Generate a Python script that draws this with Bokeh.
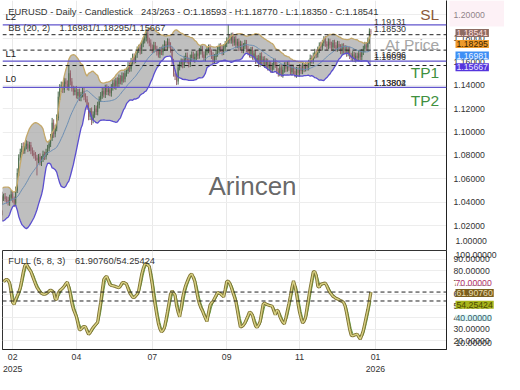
import numpy as np
import pandas as pd
from bokeh.plotting import figure
from bokeh.layouts import column
from bokeh.models import Range1d, FixedTicker, PrintfTickFormatter, Label, Span, BoxAnnotation
from bokeh.embed import file_html
from bokeh.resources import INLINE

FONT = "Liberation Sans"

# ---------------- data ----------------
title_left = "EURUSD - Daily - Candlestick"
title_right = "243/263 - O:1.18593 - H:1.18770 - L:1.18350 - C:1.18541"
bb_name = "BB (20, 2)"
bb_values_text = "1.16981/1.18295/1.15667"
stoch_name = "FULL (5, 8, 3)"
stoch_values_text = "61.90760/54.25424"
watermark = "Arincen"

warmup_bars = 20
first_open = 1.0380
closes = [
    1.0360, 1.0310, 1.0290, 1.0330, 1.0270, 1.0240, 1.0300, 1.0350, 1.0390, 1.0420,
    1.0450, 1.0410, 1.0430, 1.0470, 1.0490, 1.0460, 1.0420, 1.0380, 1.0410, 1.0440,
    1.0450, 1.0430, 1.0420, 1.0400, 1.0440, 1.0470, 1.0430, 1.0390, 1.0500, 1.0650,
    1.0780, 1.0830, 1.0880, 1.0840, 1.0880, 1.0900, 1.0860, 1.0890, 1.0840, 1.0820,
    1.0800, 1.0780, 1.0760, 1.0790, 1.0740, 1.0770, 1.0810, 1.0790, 1.0830, 1.0860,
    1.0900, 1.0950, 1.1080, 1.0980, 1.1030, 1.1120, 1.1300, 1.1370, 1.1400, 1.1360,
    1.1430, 1.1410, 1.1380, 1.1500, 1.1430, 1.1370, 1.1340, 1.1360, 1.1310, 1.1340,
    1.1290, 1.1320, 1.1350, 1.1300, 1.1280, 1.1220, 1.1130, 1.1180, 1.1100, 1.1150,
    1.1200, 1.1170, 1.1230, 1.1280, 1.1310, 1.1350, 1.1320, 1.1380, 1.1340, 1.1360,
    1.1330, 1.1380, 1.1420, 1.1390, 1.1440, 1.1410, 1.1460, 1.1430, 1.1480, 1.1450,
    1.1500, 1.1520, 1.1570, 1.1540, 1.1600, 1.1640, 1.1610, 1.1660, 1.1700, 1.1720,
    1.1690, 1.1750, 1.1780, 1.1800, 1.1840, 1.1780, 1.1760, 1.1720, 1.1700, 1.1740,
    1.1710, 1.1680, 1.1660, 1.1700, 1.1680, 1.1720, 1.1750, 1.1720, 1.1770, 1.1740,
    1.1700, 1.1600, 1.1500, 1.1470, 1.1430, 1.1550, 1.1580, 1.1600, 1.1570, 1.1620,
    1.1650, 1.1610, 1.1580, 1.1630, 1.1660, 1.1620, 1.1640, 1.1670, 1.1650, 1.1690,
    1.1710, 1.1660, 1.1630, 1.1680, 1.1700, 1.1720, 1.1680, 1.1650, 1.1610, 1.1640,
    1.1670, 1.1700, 1.1730, 1.1710, 1.1680, 1.1720, 1.1750, 1.1780, 1.1800, 1.1780,
    1.1820, 1.1760, 1.1790, 1.1740, 1.1770, 1.1720, 1.1750, 1.1700, 1.1730, 1.1760,
    1.1710, 1.1680, 1.1660, 1.1700, 1.1640, 1.1670, 1.1610, 1.1630, 1.1580, 1.1650,
    1.1600, 1.1620, 1.1570, 1.1600, 1.1550, 1.1580, 1.1530, 1.1560, 1.1600, 1.1570,
    1.1520, 1.1500, 1.1550, 1.1490, 1.1530, 1.1570, 1.1540, 1.1580, 1.1550, 1.1510,
    1.1550, 1.1520, 1.1490, 1.1530, 1.1500, 1.1550, 1.1520, 1.1560, 1.1540, 1.1570,
    1.1550, 1.1590, 1.1630, 1.1610, 1.1650, 1.1680, 1.1660, 1.1700, 1.1740, 1.1720,
    1.1760, 1.1790, 1.1750, 1.1730, 1.1770, 1.1740, 1.1720, 1.1760, 1.1740, 1.1710,
    1.1750, 1.1720, 1.1690, 1.1730, 1.1690, 1.1710, 1.1670, 1.1700, 1.1650, 1.1630,
    1.1660, 1.1620, 1.1650, 1.1630, 1.1670, 1.1640, 1.1680, 1.1710, 1.1740, 1.1720,
    1.1780, 1.18593, 1.18541,
]
upper_wick_pips = [
    30, 25, 20, 35, 28, 22, 30, 26, 24, 32, 28, 25, 30, 22, 27, 31, 26, 24, 29, 23,
    25, 30, 22, 28, 26, 33, 24, 20, 35, 40, 30, 28, 26, 32, 24, 30, 22, 27, 25, 29,
    24, 30, 26, 22, 28, 25, 31, 23, 27, 30, 26, 34, 40, 28, 32, 30, 45, 38, 30, 26,
    32, 28, 30, 70, 26, 30, 24, 28, 33, 26, 30, 22, 28, 25, 30, 27, 32, 24, 29, 26,
    30, 25, 28, 24, 31, 27, 29, 23, 26, 30, 24, 28, 25, 29, 22, 27, 30, 24, 28, 26,
    25, 30, 27, 24, 32, 28, 30, 26, 29, 24, 31, 27, 25, 30, 33, 28, 24, 30, 26, 29,
    27, 25, 30, 24, 28, 26, 31, 23, 29, 27, 25, 28, 24, 30, 26, 29, 23, 27, 25, 30,
    26, 28, 24, 30, 27, 25, 29, 23, 28, 26, 30, 24, 27, 25, 29, 26, 28, 24, 30, 25,
    27, 29, 24, 28, 26, 30, 25, 27, 115, 29, 26, 28, 24, 30, 25, 27, 29, 23, 28, 26,
    25, 28, 30, 24, 27, 26, 29, 23, 28, 25, 30, 24, 27, 29, 25, 28, 24, 30, 26, 27,
    29, 24, 28, 26, 30, 25, 27, 23, 29, 26, 28, 24, 30, 25, 27, 29, 24, 28, 26, 25,
    28, 26, 30, 24, 27, 29, 25, 28, 24, 30, 26, 27, 29, 23, 28, 25, 30, 24, 27, 26,
    28, 25, 29, 24, 27, 30, 26, 24, 28, 25, 29, 23, 27, 26, 30, 24, 28, 25, 29, 27,
    26, 24, 17.7,
]
lower_wick_pips = [
    26, 30, 24, 28, 32, 25, 27, 30, 23, 29, 26, 31, 24, 28, 25, 30, 27, 23, 29, 26,
    28, 24, 30, 26, 29, 25, 32, 30, 22, 20, 26, 24, 30, 27, 25, 28, 31, 24, 29, 26,
    27, 25, 130, 28, 24, 30, 26, 29, 25, 27, 23, 28, 26, 30, 25, 24, 22, 27, 30, 28,
    26, 30, 24, 28, 32, 25, 29, 27, 24, 30, 26, 28, 25, 29, 27, 31, 30, 28, 40, 26,
    29, 25, 28, 30, 24, 27, 26, 30, 25, 28, 24, 29, 27, 25, 30, 26, 28, 24, 27, 29,
    26, 28, 24, 30, 25, 27, 29, 23, 28, 26, 30, 24, 27, 25, 28, 26, 29, 24, 30, 27,
    25, 28, 26, 30, 24, 27, 29, 25, 28, 26, 24, 30, 28, 27, 30, 26, 25, 29, 27, 24,
    28, 26, 30, 25, 27, 24, 29, 26, 28, 25, 30, 27, 24, 28, 26, 29, 25, 27, 30, 24,
    26, 28, 25, 29, 27, 24, 30, 26, 28, 25, 27, 29, 24, 28, 26, 30, 25, 27, 29, 24,
    28, 26, 25, 30, 24, 27, 29, 26, 28, 25, 30, 27, 24, 28, 26, 29, 25, 27, 30, 24,
    26, 28, 25, 20, 27, 24, 29, 26, 28, 25, 30, 27, 24, 28, 26, 29, 25, 27, 30, 24,
    27, 25, 29, 26, 28, 24, 30, 25, 27, 29, 26, 28, 24, 30, 25, 27, 29, 26, 28, 24,
    25, 28, 26, 30, 24, 27, 29, 25, 28, 26, 30, 24, 27, 25, 29, 26, 28, 24, 30, 27,
    25, 28, 19.1,
]
stoch_k = [
    70.8, 72.0, 72.9, 72.0, 69.5, 62.0, 53.0, 51.5, 55.5, 58.5,
    61.5, 65.5, 72.0, 79.0, 84.5, 86.0, 83.5, 81.3, 79.5, 76.0,
    72.5, 69.0, 66.0, 64.0, 62.0, 60.8, 60.2, 60.0, 60.5, 61.5,
    62.8, 63.5, 62.8, 61.6, 56.0, 55.5, 61.0, 63.0, 64.2, 65.3,
    67.0, 69.0, 70.3, 66.0, 60.0, 52.5, 47.3, 44.0, 40.7, 35.0,
    29.5, 30.0, 31.6, 32.5, 32.0, 28.5, 25.8, 27.0, 29.5, 31.5,
    33.0, 34.5, 36.0, 45.0, 53.0, 63.0, 72.5, 74.5, 75.4, 72.0,
    68.5, 67.5, 67.3, 67.0, 66.5, 66.0, 65.6, 67.0, 69.5, 70.3,
    69.5, 68.7, 65.0, 61.6, 59.5, 57.5, 57.2, 58.5, 60.0, 63.0,
    70.0, 77.0, 82.0, 85.5, 86.5, 85.0, 83.9, 76.0, 68.2, 58.0,
    50.0, 42.0, 35.0, 30.5, 27.8, 29.0, 31.5, 38.0, 45.0, 52.5,
    60.0, 63.0, 61.0, 59.0, 50.0, 44.7, 40.7, 48.0, 57.0, 63.0,
    67.5, 70.8, 74.0, 76.5, 77.3, 74.5, 71.0, 64.0, 57.0, 52.0,
    48.5, 45.9, 42.5, 39.5, 36.8, 44.0, 50.5, 52.8, 53.9, 56.5,
    59.0, 61.6, 61.0, 60.4, 59.0, 57.8, 64.0, 70.8, 71.3, 69.5,
    66.0, 62.0, 58.0, 54.0, 46.5, 39.0, 32.0, 32.5, 33.5, 35.5,
    38.5, 41.5, 44.7, 44.0, 42.0, 37.0, 33.0, 31.6, 33.5, 36.5,
    44.0, 51.5, 52.5, 51.5, 51.0, 50.5, 50.2, 49.8, 46.0, 42.5,
    46.5, 45.5, 41.0, 38.1, 36.0, 34.7, 40.0, 46.0, 52.0, 58.5,
    66.0, 71.5, 67.0, 60.4, 52.0, 44.7, 39.5, 35.5, 37.0, 40.5,
    49.0, 57.0, 65.0, 72.0, 79.0, 79.5, 76.0, 67.0, 66.0, 68.5,
    69.0, 69.3, 69.5, 67.0, 64.0, 61.6, 60.0, 58.3, 57.5, 56.5,
    56.0, 55.3, 54.5, 54.0, 53.0, 50.0, 44.0, 37.0, 30.0, 25.0,
    24.5, 25.0, 25.5, 25.8, 23.5, 21.6, 25.0, 29.0, 35.0, 41.0,
    47.0, 54.0, 61.9076,
]

bb_mid_last, bb_upper_last, bb_lower_last = 1.16981, 1.18295, 1.15667
last_close = 1.18541
stoch_k_last, stoch_d_last = 61.90760, 54.25424

level_values = [1.19131, 1.16036, 1.13802]
level_names = ["L2", "L1", "L0"]
level_tags = [1.19131, 1.18530, 1.16606, 1.16036, 1.13802, 1.13804]
zone_names = ["SL", "At Price", "TP1", "TP2"]
zone_colors = ["#8c5a3a", "#a6a6a6", "#3f9040", "#3f9040"]

price_ticks = [1.02, 1.04, 1.06, 1.08, 1.10, 1.12, 1.14, 1.16, 1.18, 1.20]
stoch_ticks = [20, 30, 40, 50, 60, 70, 80, 90]
month_tick_bars = [6, 48, 98, 147, 195, 245]
month_tick_labels = ["02\n2025", "04", "07", "09", "11", "01\n2026"]

# ---------------- derived series ----------------
n = min(len(closes), len(upper_wick_pips), len(lower_wick_pips))
c = np.array(closes[:n], dtype=float)
o = np.concatenate([[first_open], c[:-1]])
hi = np.maximum(o, c) + np.array(upper_wick_pips[:n], dtype=float) / 1e4
lo = np.minimum(o, c) - np.array(lower_wick_pips[:n], dtype=float) / 1e4
xb = np.arange(n) - warmup_bars
cs = pd.Series(c)
bb_mid = cs.rolling(20).mean().to_numpy()
bb_sd = cs.rolling(20).std(ddof=0).to_numpy()
bb_up = bb_mid + 2 * bb_sd
bb_dn = bb_mid - 2 * bb_sd
ok = ~np.isnan(bb_mid)

k = np.array(stoch_k, dtype=float)
xk = np.arange(len(k))
d = pd.Series(k).rolling(3, min_periods=1).mean().to_numpy()

# ---------------- layout ----------------
LEFT = 2
FRAME_W = 444
AX_W = 58
MAIN_H = 250
STOCH_H = 99
xr = Range1d(-0.7, 291.8)
main_yr = Range1d(0.9990, 1.2121)
stoch_yr = Range1d(12.7, 97.5)


def style_right_axis(ax, ticks, fmt):
    ax.ticker = FixedTicker(ticks=ticks)
    ax.formatter = PrintfTickFormatter(format=fmt)
    ax.major_tick_line_color = None
    ax.minor_tick_line_color = None
    ax.major_tick_out = 0
    ax.major_tick_in = 0
    ax.major_label_standoff = 7
    ax.axis_line_color = "#222222"
    ax.axis_line_width = 1
    ax.major_label_text_font = FONT
    ax.major_label_text_font_size = "8.7px"
    ax.major_label_text_color = "#333333"


def lab(fig, text, x, y, size, color, xu="screen", yu="screen", align="left",
        base="middle", yoff=0, bg=None, alpha=1.0, pad=None):
    kw = dict(x=x, y=y, x_units=xu, y_units=yu, text=text, text_font=FONT,
              text_font_size=size, text_color=color, text_align=align,
              text_baseline=base, y_offset=yoff, text_alpha=alpha)
    if bg is not None:
        kw["background_fill_color"] = bg
        kw["background_fill_alpha"] = 1.0
    if pad is not None:
        kw["padding"] = pad
    fig.add_layout(Label(**kw))


p = figure(frame_width=FRAME_W, frame_height=MAIN_H, x_range=xr, y_range=main_yr,
           output_backend="svg", toolbar_location=None, x_axis_location=None,
           y_axis_location="right", min_border_left=LEFT, min_border_right=AX_W,
           min_border_top=0, min_border_bottom=0)
p.outline_line_color = None
style_right_axis(p.yaxis[0], price_ticks, "%.5f")
p.xgrid.ticker = FixedTicker(ticks=month_tick_bars)
p.xgrid.grid_line_color = "#e9e9e9"
p.ygrid.grid_line_color = "#ededed"

# Bollinger band
p.varea(x=xb[ok], y1=bb_dn[ok], y2=bb_up[ok], fill_color="#a6a6a6", fill_alpha=0.72)
# candles
inc = c >= o
for mask, col in ((inc, "#4b6b4b"), (~inc, "#93606a")):
    p.segment(x0=xb[mask], y0=hi[mask], x1=xb[mask], y1=lo[mask], line_color=col, line_width=1)
    p.vbar(x=xb[mask], width=0.6, top=np.maximum(o, c)[mask], bottom=np.minimum(o, c)[mask],
           fill_color=col, line_color=None)
p.line(xb[ok], bb_up[ok], line_color="#c4a86a", line_width=1.3)
p.line(xb[ok], bb_dn[ok], line_color="#5b4fcf", line_width=1.3)
p.line(xb[ok], bb_mid[ok], line_color="#6d8fb3", line_width=1)

for v in (bb_upper_last, bb_mid_last, bb_lower_last):
    p.add_layout(Span(location=v, dimension="width", line_color="#222222",
                      line_dash="4 3", line_width=1))
for v in level_values:
    p.add_layout(Span(location=v, dimension="width", line_color="#6155cc", line_width=1.3))

lab(p, title_left, 5.8, 238.5, "9.3px", "#333333")
lab(p, title_right, 138.6, 238.5, "9.3px", "#333333")
lab(p, bb_name, 5.8, 222.2, "9.3px", "#333333")
lab(p, bb_values_text, 56.9, 222.2, "9.3px", "#333333")
for name, ys in zip(level_names, (234.4, 196.8, 172.2)):
    lab(p, name, 3, ys, "9.6px", "#222222")
tag_base = {1.19131: ("bottom", 0), 1.18530: ("bottom", 0), 1.16606: ("middle", 0),
            1.16036: ("bottom", 1), 1.13802: ("bottom", 1), 1.13804: ("bottom", 1)}
for v in level_tags:
    b, off = tag_base.get(v, ("bottom", 0))
    lab(p, f"{v:.5f}", 244, v, "8.9px", "#333333", xu="data", yu="data", base=b, yoff=off)
for name, col, ys in zip(zone_names, zone_colors, (235.6, 205.6, 178.2, 150.4)):
    lab(p, name, 436.7, ys, "15.5px", col, align="right")
lab(p, watermark, 250, 65, "26px", "#555555", align="center", alpha=0.9)

# ---------------- stochastic panel ----------------
p2 = figure(frame_width=FRAME_W, frame_height=STOCH_H, x_range=xr, y_range=stoch_yr,
            output_backend="svg", toolbar_location=None, y_axis_location="right",
            min_border_left=LEFT, min_border_right=AX_W,
            min_border_top=0, min_border_bottom=0)
p2.outline_line_color = "#333333"
style_right_axis(p2.yaxis[0], stoch_ticks, "%.5f")
xa = p2.xaxis[0]
xa.ticker = FixedTicker(ticks=month_tick_bars)
xa.major_label_overrides = dict(zip(month_tick_bars, month_tick_labels))
xa.major_tick_line_color = None
xa.minor_tick_line_color = None
xa.major_tick_out = 0
xa.major_tick_in = 0
xa.axis_line_color = "#222222"
xa.major_label_standoff = 2
xa.major_label_text_font = FONT
xa.major_label_text_font_size = "8.7px"
xa.major_label_text_color = "#333333"
p2.xgrid.grid_line_color = "#e9e9e9"
p2.ygrid.grid_line_color = "#ededed"

p2.line(xk, d, line_color="#5fa040", line_width=1)
p2.line(xk, k, line_color="#7d7232", line_width=3.2)
p2.line(xk, k, line_color="#d8d184", line_width=1.4)
for v in (stoch_k_last, stoch_d_last):
    p2.add_layout(Span(location=v, dimension="width", line_color="#222222",
                       line_dash="4 3", line_width=1))

lab(p2, stoch_name, 5.8, 88.9, "9.3px", "#333333", yu="data")
lab(p2, stoch_values_text, 72.4, 88.9, "9.3px", "#333333", yu="data")


# ---------------- value boxes over the price scales ----------------
def overlay(yr, fh, top):
    f = figure(frame_width=AX_W, frame_height=fh, x_range=Range1d(0, AX_W), y_range=yr,
               output_backend="svg", toolbar_location=None, x_axis_location=None,
               y_axis_location=None, min_border_left=0, min_border_right=0,
               min_border_top=0, min_border_bottom=0)
    f.xgrid.visible = False
    f.ygrid.visible = False
    f.outline_line_color = None
    f.background_fill_alpha = 0
    f.border_fill_alpha = 0
    f.styles = {"position": "absolute", "left": f"{LEFT + FRAME_W}px", "top": f"{top}px"}
    return f


ov1 = overlay(main_yr, MAIN_H, 0)
ov1.add_layout(BoxAnnotation(top_units="screen", top=MAIN_H, bottom_units="screen",
                             bottom=MAIN_H - 26, left_units="screen", left=1,
                             right_units="screen", right=AX_W,
                             fill_color="#fbe1ec", fill_alpha=0.45, line_color=None))
box_specs = [(last_close, -1.3, "#8d6b62", "#ffdede"),
             (bb_upper_last, -9.4, "#ee9a2c", "#3a2400"),
             (bb_mid_last, -5.5, "#3d8ff5", "#eef4ff"),
             (bb_lower_last, -1.6, "#5535dd", "#e6e6ff")]
for v, off, bg, fg in box_specs:
    lab(ov1, f"{v:.5f}", 7, v, "8.7px", fg, yu="data", yoff=off, bg=bg, pad=1)
lab(ov1, "1.00000", 7, main_yr.start, "8.7px", "#333333", yu="data", yoff=9.6)

ov2 = overlay(stoch_yr, STOCH_H, MAIN_H)
lab(ov2, "70.00000", 7, 70, "8.7px", "#b0306a", yu="data", bg="#ffffff")
lab(ov2, "40.00000", 7, 40, "8.7px", "#3a5a66", yu="data", bg="#d9f7f7")
lab(ov2, "100.00000", 7, stoch_yr.end, "8.7px", "#333333", yu="data", yoff=-4.6)
lab(ov2, "10.00000", 7, stoch_yr.start, "8.7px", "#333333", yu="data", yoff=6.4)
lab(ov2, f"{stoch_k_last:.5f}", 7, stoch_k_last, "8.7px", "#eadfb0",
    yu="data", yoff=-1.0, bg="#7a5e1e", pad=1)
lab(ov2, f"{stoch_d_last:.5f}", 7, stoch_d_last, "8.7px", "#4a4a00",
    yu="data", yoff=-3.8, bg="#a8b41c", pad=1)

layout = column(p, p2, ov1, ov2, spacing=0, styles={"position": "relative"})
open("out.html", "w").write(file_html(layout, INLINE))
